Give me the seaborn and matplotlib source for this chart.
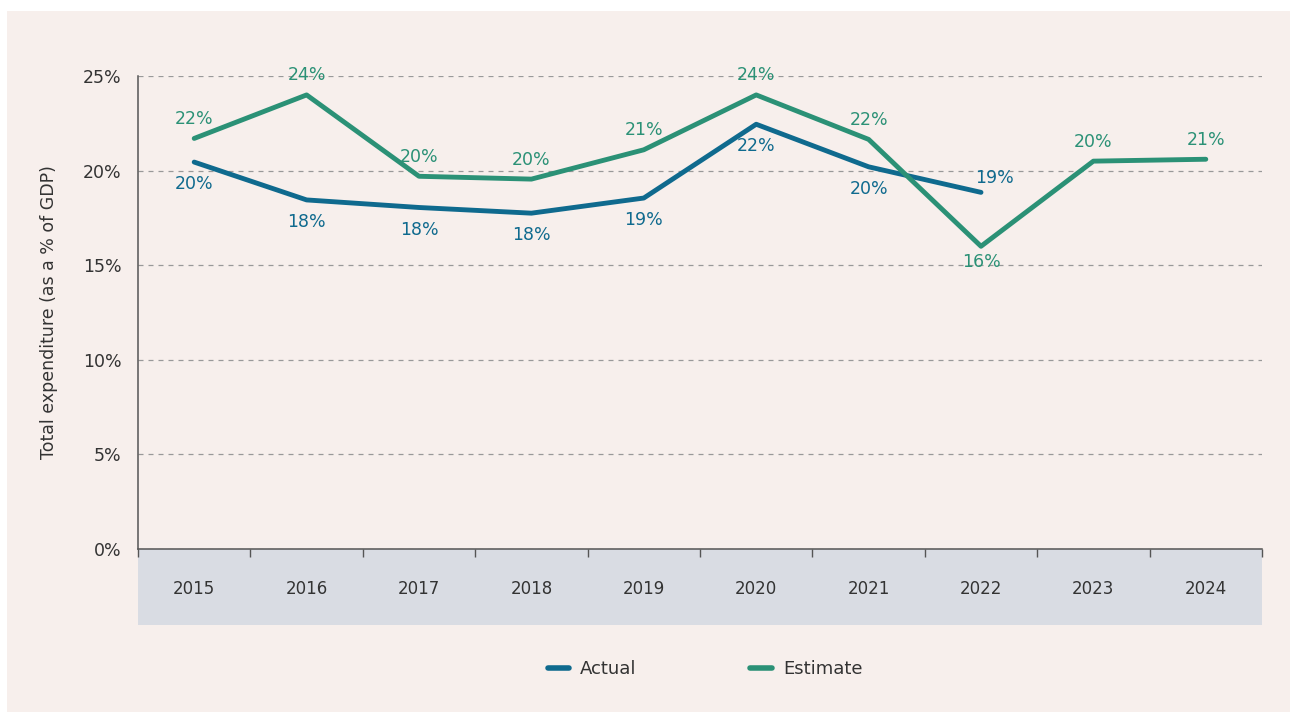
import pandas as pd
import numpy as np
import seaborn as sns
import matplotlib.pyplot as plt
from matplotlib.patches import Rectangle
from matplotlib.ticker import FuncFormatter, FixedLocator

years = ["2015", "2016", "2017", "2018", "2019", "2020", "2021", "2022", "2023", "2024"]
actual = [20.45, 18.45, 18.05, 17.75, 18.55, 22.45, 20.2, 18.85, np.nan, np.nan]
estimate = [21.7, 24.0, 19.7, 19.55, 21.1, 24.0, 21.65, 16.0, 20.5, 20.6]
actual_labels = ["20%", "18%", "18%", "18%", "19%", "22%", "20%", "19%", "", ""]
estimate_labels = ["22%", "24%", "20%", "20%", "21%", "24%", "22%", "16%", "20%", "21%"]
# +1 = label above the point, -1 = below
actual_side = [-1, -1, -1, -1, -1, -1, -1, 1, 0, 0]
estimate_side = [1, 1, 1, 1, 1, 1, 1, -1, 1, 1]

blue = "#0f6a8e"
green = "#2b9176"
bg = "#f7efec"
band = "#d9dce3"
text_col = "#333333"

sns.set_style("white")
plt.rcParams["font.family"] = ["DejaVu Sans"]

df = pd.DataFrame({"Year": years, "Actual": actual, "Estimate": estimate})
long = df.melt(id_vars="Year", var_name="Series", value_name="Value").dropna()

fig = plt.figure(figsize=(12.91, 7.13), dpi=100)
fig.patch.set_facecolor("white")
fig.patches.append(Rectangle((7 / 1291, 1 - 712 / 713), 1283 / 1291, 701 / 713,
                             transform=fig.transFigure, facecolor=bg, edgecolor="none", zorder=-10))

ax = fig.add_axes([138 / 1291, 1 - 549 / 713, 1124 / 1291, 473 / 713])
ax.set_facecolor(bg)
ax.patch.set_alpha(0)

sns.lineplot(data=long, x="Year", y="Value", hue="Series", palette={"Actual": blue, "Estimate": green},
             linewidth=3.5, ax=ax, legend=True, sort=False)

# value labels
for i, y in enumerate(years):
    if not np.isnan(actual[i]):
        s = actual_side[i]
        if s > 0:
            off = (10, 10)
        else:
            off = (0, -16)
        ax.annotate(actual_labels[i], (i, actual[i]), xytext=off, textcoords="offset points",
                    ha="center", va="center", color=blue, fontsize=12.5)
    s = estimate_side[i]
    off = (0, 14) if s > 0 else (0, -11)
    ax.annotate(estimate_labels[i], (i, estimate[i]), xytext=off, textcoords="offset points",
                ha="center", va="center", color=green, fontsize=12.5)

ax.set_xlim(-0.5, 9.5)
ax.set_ylim(0, 25)
ax.set_yticks([0, 5, 10, 15, 20, 25])
ax.yaxis.set_major_formatter(FuncFormatter(lambda v, p: f"{v:.0f}%"))
ax.yaxis.grid(True, linestyle=(0, (4, 4)), color="#999999", linewidth=0.9)
ax.set_axisbelow(True)

ax.xaxis.set_minor_locator(FixedLocator(np.arange(-0.5, 10, 1)))
ax.tick_params(axis="x", which="major", length=0, pad=22, labelsize=12, labelcolor=text_col)
ax.tick_params(axis="x", which="minor", length=6, width=1, color="#555555", direction="out", bottom=True)
ax.tick_params(axis="y", length=0, labelsize=12.5, labelcolor=text_col, pad=12)

for side in ["top", "right"]:
    ax.spines[side].set_visible(False)
for side in ["left", "bottom"]:
    ax.spines[side].set_color("#555555")
    ax.spines[side].set_linewidth(1.1)

ax.set_xlabel("")
ax.set_ylabel("Total expenditure (as a % of GDP)", fontsize=12.5, color=text_col, labelpad=18)

# grey band behind the year labels
ax.add_patch(Rectangle((0, -76 / 473), 1, 76 / 473, transform=ax.transAxes, facecolor=band,
                       edgecolor="none", clip_on=False, zorder=-5))

handles, labels = ax.get_legend_handles_labels()
ax.get_legend().remove()
for h in handles:
    h.set_linewidth(4)
    h.set_solid_capstyle("round")
fig.legend(handles, labels, loc="center", bbox_to_anchor=(0.546, 1 - 669 / 713), ncol=2, frameon=False,
           fontsize=13, handlelength=1.2, columnspacing=6.3, handletextpad=0.6, labelcolor=text_col)

fig.savefig("out.png", dpi=100, facecolor=fig.get_facecolor())
